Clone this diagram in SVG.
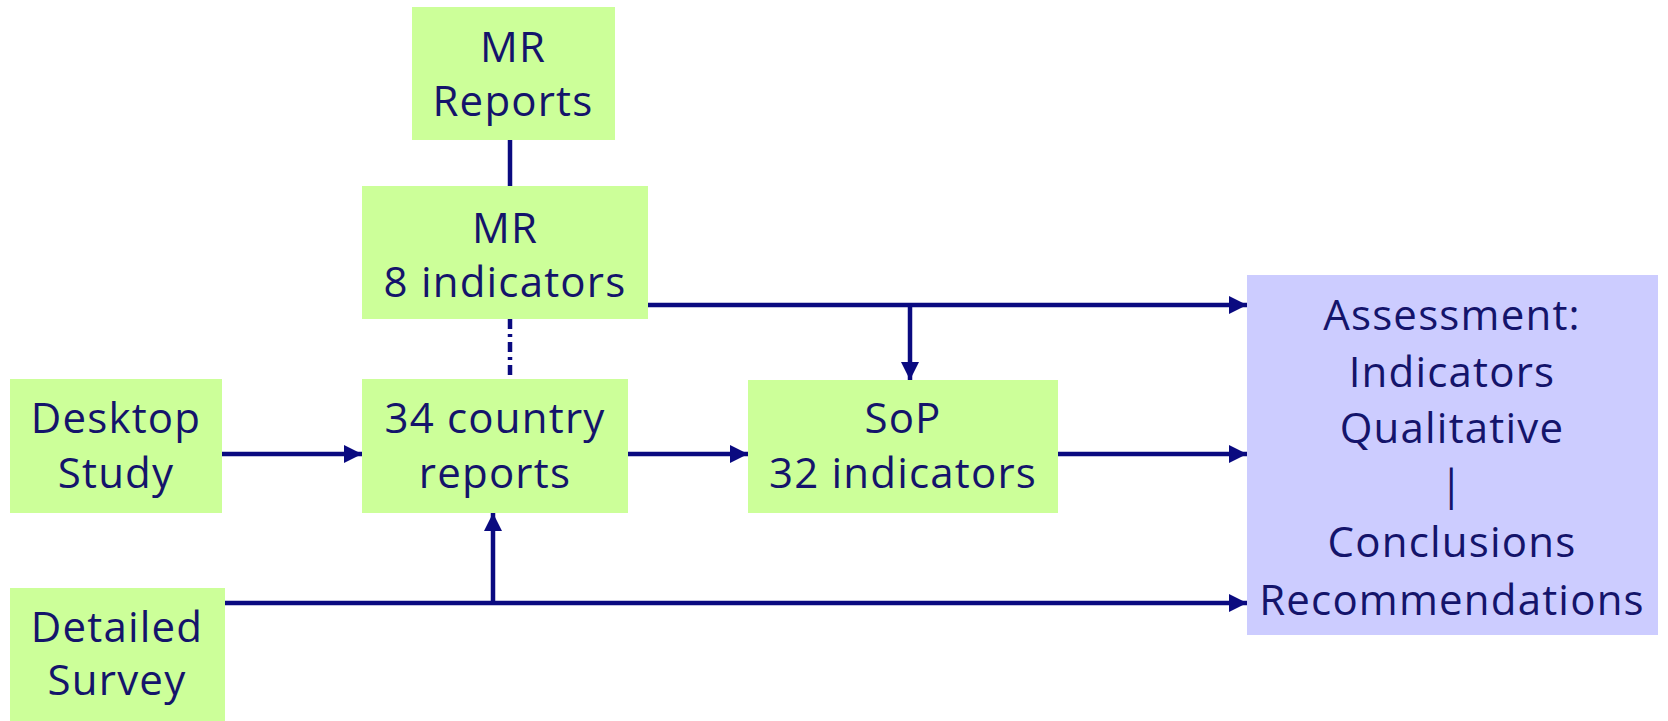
<svg xmlns="http://www.w3.org/2000/svg" width="1668" height="721" viewBox="0 0 1668 721">
<style>
.g{fill:#ccff99}
.p{fill:#ccccff}
.t{font-family:"Open Sans","Liberation Sans",sans-serif;font-size:42px;letter-spacing:1.2px;fill:#14146b;text-anchor:middle}
.c{stroke:#0a0a80;stroke-width:4.5;fill:none}
</style>
<defs>
<marker id="ah" viewBox="0 0 10 10" refX="10" refY="5" markerWidth="4.6" markerHeight="4" markerUnits="strokeWidth" orient="auto">
<path d="M0,0 L10,5 L0,10 z" fill="#0a0a80"/>
</marker>
</defs>
<rect width="1668" height="721" fill="#ffffff"/>
<g id="connectors">
<line class="c" x1="510" y1="140" x2="510" y2="186"/>
<line class="c" x1="510" y1="319" x2="510" y2="379" stroke-dasharray="10 5 3 5"/>
<line class="c" x1="640" y1="305" x2="1247" y2="305" marker-end="url(#ah)"/>
<line class="c" x1="910" y1="305" x2="910" y2="380" marker-end="url(#ah)"/>
<line class="c" x1="222" y1="454" x2="362" y2="454" marker-end="url(#ah)"/>
<line class="c" x1="628" y1="454" x2="748" y2="454" marker-end="url(#ah)"/>
<line class="c" x1="1056" y1="454" x2="1247" y2="454" marker-end="url(#ah)"/>
<line class="c" x1="222" y1="603" x2="1247" y2="603" marker-end="url(#ah)"/>
<line class="c" x1="493" y1="603" x2="493" y2="513" marker-end="url(#ah)"/>
</g>
<g id="mr-reports">
<rect class="g" x="412" y="7" width="203" height="133"/>
<text class="t" x="513" y="62">MR</text>
<text class="t" x="513" y="116">Reports</text>
</g>
<g id="mr-indicators">
<rect class="g" x="362" y="186" width="286" height="133"/>
<text class="t" x="505" y="243">MR</text>
<text class="t" x="505" y="297">8 indicators</text>
</g>
<g id="desktop-study">
<rect class="g" x="10" y="379" width="212" height="134"/>
<text class="t" x="116" y="433">Desktop</text>
<text class="t" x="116" y="488">Study</text>
</g>
<g id="country-reports">
<rect class="g" x="362" y="379" width="266" height="134"/>
<text class="t" x="495" y="433">34 country</text>
<text class="t" x="495" y="488">reports</text>
</g>
<g id="sop">
<rect class="g" x="748" y="380" width="310" height="133"/>
<text class="t" x="903" y="433">SoP</text>
<text class="t" x="903" y="488">32 indicators</text>
</g>
<g id="detailed-survey">
<rect class="g" x="10" y="588" width="215" height="133"/>
<text class="t" x="117" y="642">Detailed</text>
<text class="t" x="117" y="695">Survey</text>
</g>
<g id="assessment">
<rect class="p" x="1247" y="275" width="411" height="360"/>
<text class="t" x="1452" y="330">Assessment:</text>
<text class="t" x="1452" y="387">Indicators</text>
<text class="t" x="1452" y="443">Qualitative</text>
<text class="t" x="1452" y="500">|</text>
<text class="t" x="1452" y="557">Conclusions</text>
<text class="t" x="1452" y="615">Recommendations</text>
</g>
</svg>
